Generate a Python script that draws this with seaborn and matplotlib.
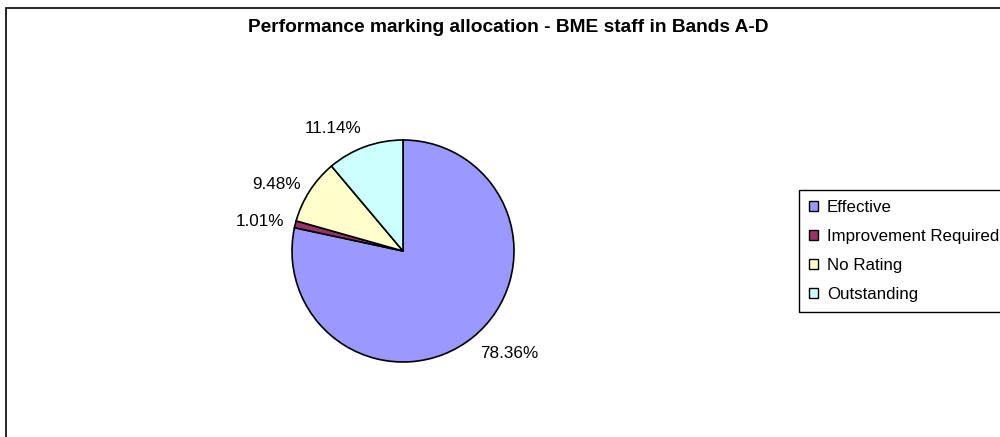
import numpy as np
import matplotlib
matplotlib.use("Agg")
import matplotlib.pyplot as plt
from matplotlib.patches import Rectangle
import seaborn as sns

# Performance marking shares (%) for BME staff in Bands A-D
categories = ["Effective", "Improvement Required", "No Rating", "Outstanding"]
shares = [78.36, 1.01, 9.48, 11.14]
share_labels = [f"{v:.2f}%" for v in shares]
title = "Performance marking allocation - BME staff in Bands A-D"

sns.set_style("white")
plt.rcParams["font.family"] = ["Liberation Sans", "DejaVu Sans"]
plt.rcParams["text.color"] = "black"

palette = sns.color_palette(["#9999FF", "#993366", "#FFFFCC", "#CCFFFF"])

W, H = 1000, 437
fig = plt.figure(figsize=(W / 100, H / 100), dpi=100)
fig.patch.set_facecolor("white")

# Chart-area border (runs off the right and bottom edges)
fig.patches.append(Rectangle((6 / W, -0.1), 1.2, 1.1 - 8 / H,
                             transform=fig.transFigure, fill=False,
                             edgecolor="black", linewidth=1.2, zorder=0))

# Pie axes: centre (403, 251) px, radius 111 px
cx, cy, r = 403, 251, 111
ax = fig.add_axes([(cx - r) / W, (H - cy - r) / H, 2 * r / W, 2 * r / H])
wedges, texts = ax.pie(
    shares,
    labels=share_labels,
    colors=palette,
    startangle=90,
    counterclock=False,
    labeldistance=1.1,
    wedgeprops=dict(edgecolor="black", linewidth=1.2),
    textprops=dict(fontsize=12.3, color="black"),
)
ax.set_xlim(-1, 1)
ax.set_ylim(-1, 1)
ax.set_aspect("equal")
ax.axis("off")

# Anchor each percentage label on the side facing the pie
for w, t in zip(wedges, texts):
    mid = np.deg2rad((w.theta1 + w.theta2) / 2)
    c, s = np.cos(mid), np.sin(mid)
    t.set_ha("left" if c > 0 else "right")
    if s < -0.7:
        t.set_va("top")
    elif s > 0.7:
        t.set_va("bottom")
    else:
        t.set_va("center")
    t.set_clip_on(False)

fig.text(508.5 / W, 1 - 28 / H, title, ha="center", va="center",
         fontsize=13.8, fontweight="bold", color="black")

leg = fig.legend(
    wedges, categories,
    loc="upper left",
    bbox_to_anchor=(799 / W, 1 - 190 / H),
    bbox_transform=fig.transFigure,
    borderaxespad=0,
    fontsize=12.2,
    frameon=True,
    fancybox=False,
    shadow=False,
    framealpha=1,
    handlelength=0.55,
    handleheight=0.55,
    handletextpad=0.5,
    borderpad=0.6,
    labelspacing=0.82,
)
leg.get_frame().set_edgecolor("black")
leg.get_frame().set_linewidth(1.0)
for txt in leg.get_texts():
    txt.set_color("black")
for h in leg.legend_handles:
    h.set_edgecolor("black")
    h.set_linewidth(1.0)

fig.savefig("out.png", dpi=100, facecolor="white")
